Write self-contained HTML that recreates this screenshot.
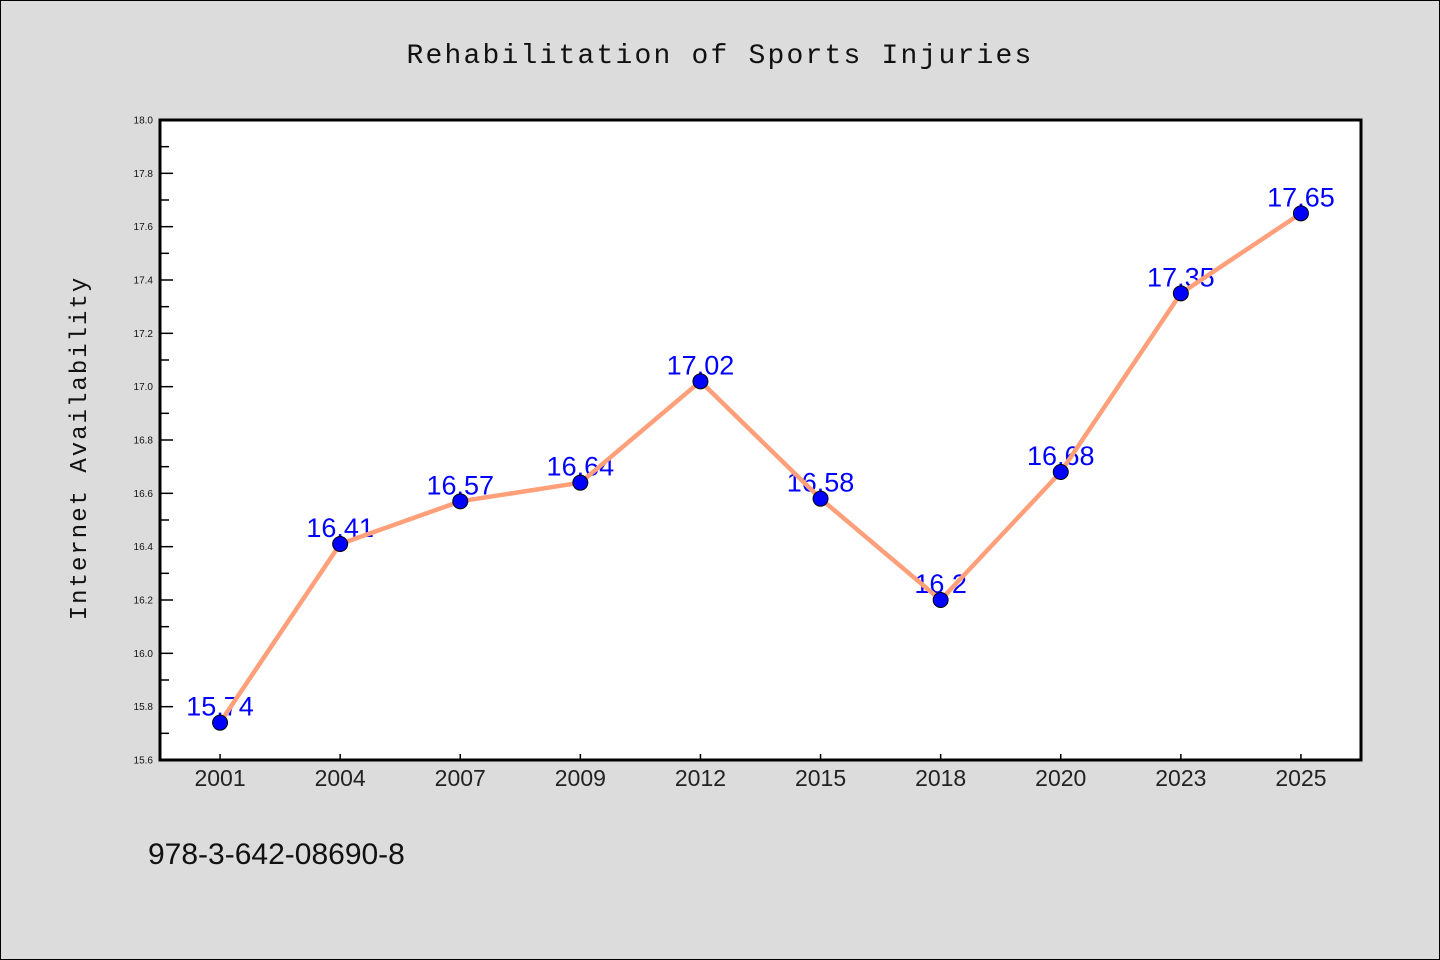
<!DOCTYPE html>
<html><head><meta charset="utf-8"><style>
body{margin:0;background:#dcdcdc}
svg{display:block}
</style></head><body>
<svg width="1440" height="960" xmlns="http://www.w3.org/2000/svg">
<rect x="0.5" y="0.5" width="1439" height="959" fill="#dcdcdc" stroke="#000"/>
<text x="720" y="63" text-anchor="middle" font-family="'Liberation Mono',monospace" font-size="28" letter-spacing="2.2" fill="#111">Rehabilitation of Sports Injuries</text>
<text transform="translate(86,448) rotate(-90)" text-anchor="middle" font-family="'Liberation Mono',monospace" font-size="24" letter-spacing="2" fill="#111">Internet Availability</text>
<text x="148" y="864" font-family="'Liberation Sans',sans-serif" font-size="30" fill="#111">978-3-642-08690-8</text>
<rect x="160" y="120" width="1201" height="640" fill="#fff"/>
<g id="axes"></g>
<g id="marks"></g>
<rect x="160" y="120" width="1201" height="640" fill="none" stroke="#000" stroke-width="3"/>
</svg>
<script>
const categories=["2001","2004","2007","2009","2012","2015","2018","2020","2023","2025"];
const values=[15.74,16.41,16.57,16.64,17.02,16.58,16.2,16.68,17.35,17.65];
const valueLabels=["15.74","16.41","16.57","16.64","17.02","16.58","16.2","16.68","17.35","17.65"];
const yTicks=["15.6","15.8","16.0","16.2","16.4","16.6","16.8","17.0","17.2","17.4","17.6","17.8","18.0"];
const NS="http://www.w3.org/2000/svg";
const L=160,R=1361,T=120,B=760,yMin=15.6,yMax=18.0;
const band=(R-L)/categories.length;
const xs=i=>L+band*(i+0.5);
const ys=v=>B-(v-yMin)/(yMax-yMin)*(B-T);
function mk(t,a,p){const e=document.createElementNS(NS,t);for(const k in a)e.setAttribute(k,a[k]);p.appendChild(e);return e;}
const ax=document.getElementById('axes'),mg=document.getElementById('marks');
yTicks.forEach(s=>{const v=parseFloat(s),y=ys(v);
 const t=mk('line',{x1:L,x2:L+13,y1:y,y2:y,stroke:'#000','stroke-width':1.5},ax);
 
 
 const tx=mk('text',{x:L-7,y:y+3.5,'text-anchor':'end','font-family':"'Liberation Sans',sans-serif",'font-size':10,fill:'#111'},ax);
 tx.textContent=s;
 
 
 const mv=v+0.1;
 if(mv<yMax){const m=mk('line',{x1:L,x2:L+9,y1:ys(mv),y2:ys(mv),stroke:'#000','stroke-width':1.5},ax);
  
  }
});
categories.forEach((c,i)=>{const x=xs(i);
 const t=mk('line',{x1:x,x2:x,y1:B,y2:B-6,stroke:'#000','stroke-width':1.5},ax);
 
 
 const tx=mk('text',{x:x,y:B+26,'text-anchor':'middle','font-family':"'Liberation Sans',sans-serif",'font-size':23,fill:'#222'},ax);
 tx.textContent=c;
 
 
});
values.forEach((v,i)=>{const tx=mk('text',{x:xs(i),y:ys(v)-7,'text-anchor':'middle','font-family':"'Liberation Sans',sans-serif",'font-size':27,fill:'#0000ff'},mg);
 tx.textContent=valueLabels[i];
 
 
});
const pl=mk('polyline',{points:values.map((v,i)=>xs(i)+','+ys(v)).join(' '),fill:'none',stroke:'#ffa07a','stroke-width':4.5,'stroke-linejoin':'round'},mg);


values.forEach((v,i)=>{const c=mk('circle',{cx:xs(i),cy:ys(v),r:7.5,fill:'#0000ff',stroke:'#000','stroke-width':1},mg);
 
 
});
</script>
</body></html>
